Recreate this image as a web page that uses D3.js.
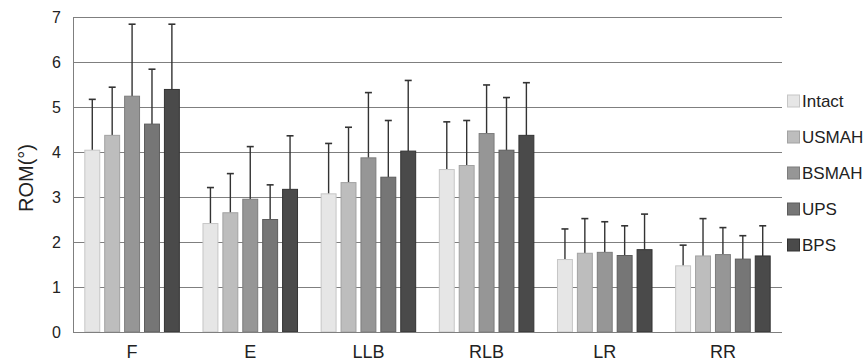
<!DOCTYPE html>
<html>
<head>
<meta charset="utf-8">
<script src="https://cdn.jsdelivr.net/npm/d3@7"></script>
<style>
  body { margin: 0; background: #fff; }
  svg { display: block; font-family: "Liberation Sans", Arial, sans-serif; }
</style>
</head>
<body>
<div id="chart"></div>
<script>
// data
var categories = ["F", "E", "LLB", "RLB", "LR", "RR"];
var groups = ["Intact", "USMAH", "BSMAH", "UPS", "BPS"];
var intact = [4.04, 2.41, 3.07, 3.61, 1.61, 1.47];
var usmah  = [4.37, 2.65, 3.32, 3.70, 1.75, 1.69];
var bsmah  = [5.24, 2.95, 3.87, 4.41, 1.77, 1.72];
var ups    = [4.62, 2.50, 3.44, 4.04, 1.70, 1.62];
var bps    = [5.39, 3.17, 4.02, 4.37, 1.83, 1.69];
// standard deviations (upper error bars)
var intactSd = [1.13, 0.80, 1.12, 1.06, 0.68, 0.46];
var usmahSd  = [1.07, 0.87, 1.23, 1.00, 0.77, 0.83];
var bsmahSd  = [1.60, 1.17, 1.45, 1.08, 0.68, 0.60];
var upsSd    = [1.22, 0.77, 1.26, 1.17, 0.66, 0.52];
var bpsSd    = [1.45, 1.19, 1.57, 1.17, 0.79, 0.67];
var yTicks = [0, 1, 2, 3, 4, 5, 6, 7];

var fills   = ["#e6e6e6", "#bdbdbd", "#969696", "#767676", "#4a4a4a"];
var strokes = ["#c6c6c6", "#a2a2a2", "#7c7c7c", "#5c5c5c", "#333333"];

var means = [intact, usmah, bsmah, ups, bps];
var sds = [intactSd, usmahSd, bsmahSd, upsSd, bpsSd];

var width = 868, height = 364;
var margin = {left: 73, right: 86, top: 17, bottom: 32};

var svg = d3.select("#chart").append("svg")
    .attr("width", width)
    .attr("height", height);

var x0 = d3.scaleBand()
    .domain(categories)
    .range([margin.left, width - margin.right])
    .paddingInner(0.2)
    .paddingOuter(0.1);

var x1 = d3.scaleBand()
    .domain(groups)
    .range([0, x0.bandwidth()])
    .paddingInner(0.25);

var y = d3.scaleLinear()
    .domain([0, 7])
    .range([height - margin.bottom, margin.top]);

// gridlines
svg.append("g").attr("class", "grid")
    .selectAll("line")
    .data(yTicks)
    .join("line")
    .attr("x1", margin.left)
    .attr("x2", width - margin.right)
    .attr("y1", d => Math.round(y(d)) + 0.5)
    .attr("y2", d => Math.round(y(d)) + 0.5)
    .attr("stroke", "#7f7f7f")
    .attr("stroke-width", 1);

// left axis line
svg.append("line")
    .attr("x1", margin.left + 0.5)
    .attr("x2", margin.left + 0.5)
    .attr("y1", y(7))
    .attr("y2", y(0))
    .attr("stroke", "#7f7f7f");

// y tick labels
svg.append("g")
    .selectAll("text")
    .data(yTicks)
    .join("text")
    .attr("x", 61)
    .attr("y", d => y(d))
    .attr("dy", "0.36em")
    .attr("text-anchor", "end")
    .style("font-size", "16px")
    .attr("fill", "#222")
    .text(d => d);

// y title
svg.append("text")
    .attr("transform", "rotate(-90)")
    .attr("x", -178)
    .attr("y", 33)
    .attr("text-anchor", "middle")
    .style("font-size", "20px")
    .attr("fill", "#222")
    .text("ROM(°)");

// x labels
svg.append("g")
    .selectAll("text")
    .data(categories)
    .join("text")
    .attr("x", d => x0(d) + x0.bandwidth() / 2)
    .attr("y", 358)
    .attr("text-anchor", "middle")
    .style("font-size", "18px")
    .attr("fill", "#222")
    .text(d => d);

// bars + error bars
groups.forEach(function(g, j) {
    var rows = categories.map((c, i) => ({cat: c, v: means[j][i], sd: sds[j][i]}));
    var gg = svg.append("g").attr("class", "series-" + g);

    gg.selectAll("line.err")
        .data(rows)
        .join("line").attr("class", "err")
        .attr("x1", d => x0(d.cat) + x1(g) + x1.bandwidth() / 2)
        .attr("x2", d => x0(d.cat) + x1(g) + x1.bandwidth() / 2)
        .attr("y1", d => y(d.v))
        .attr("y2", d => y(d.v + d.sd))
        .attr("stroke", "#333")
        .attr("stroke-width", 1.4);

    gg.selectAll("line.cap")
        .data(rows)
        .join("line").attr("class", "cap")
        .attr("x1", d => x0(d.cat) + x1(g) + x1.bandwidth() / 2 - 3.5)
        .attr("x2", d => x0(d.cat) + x1(g) + x1.bandwidth() / 2 + 3.5)
        .attr("y1", d => y(d.v + d.sd))
        .attr("y2", d => y(d.v + d.sd))
        .attr("stroke", "#333")
        .attr("stroke-width", 1.6);

    gg.selectAll("rect")
        .data(rows)
        .join("rect")
        .attr("x", d => x0(d.cat) + x1(g))
        .attr("y", d => y(d.v))
        .attr("width", x1.bandwidth())
        .attr("height", d => y(0) - y(d.v))
        .attr("fill", fills[j])
        .attr("stroke", strokes[j])
        .attr("stroke-width", 1);
});

// baseline on top of bars
svg.append("line")
    .attr("x1", margin.left)
    .attr("x2", width - margin.right)
    .attr("y1", Math.round(y(0)) + 0.5)
    .attr("y2", Math.round(y(0)) + 0.5)
    .attr("stroke", "#7f7f7f");

// legend
var legend = svg.append("g")
    .attr("transform", "translate(787,101)");
var item = legend.selectAll("g")
    .data(groups)
    .join("g")
    .attr("transform", (d, i) => "translate(0," + (i * 36) + ")");
item.append("rect")
    .attr("x", 0.5)
    .attr("y", -6)
    .attr("width", 12)
    .attr("height", 12)
    .attr("fill", (d, i) => fills[i])
    .attr("stroke", (d, i) => strokes[i]);
item.append("text")
    .attr("x", 15)
    .attr("dy", "0.36em")
    .style("font-size", "17px")
    .attr("fill", "#222")
    .text(d => d);
</script>
</body>
</html>
